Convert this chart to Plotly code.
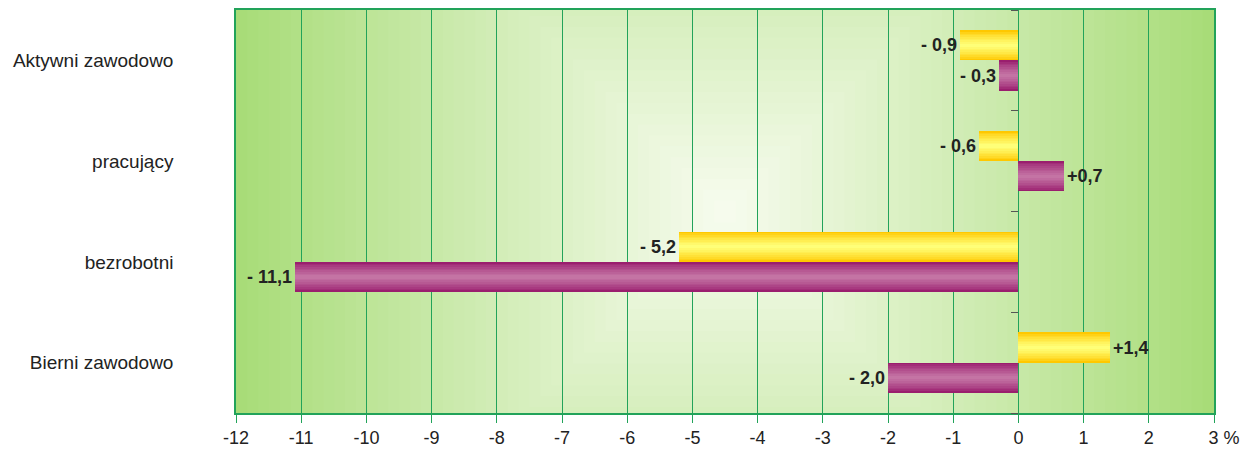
import plotly.graph_objects as go

# ---------------- data ----------------
categories = ["Aktywni zawodowo", "pracujący", "bezrobotni", "Bierni zawodowo"]
series_a = [-0.9, -0.6, -5.2, 1.4]    # yellow (upper bar)
series_b = [-0.3, 0.7, -11.1, -2.0]   # purple (lower bar)
x_tick_values = [-12, -11, -10, -9, -8, -7, -6, -5, -4, -3, -2, -1, 0, 1, 2, 3]
x_tick_labels = ["-12", "-11", "-10", "-9", "-8", "-7", "-6", "-5", "-4", "-3",
                 "-2", "-1", "0", "1", "2", "3 %"]

# ---------------- styling ----------------
W, H = 1250, 450
M_L, M_R, M_T, M_B = 236, 36, 10, 37
X_RANGE = [-12, 3]
Y_RANGE = [len(categories) - 0.5, -0.5]
FONT = "Liberation Sans, Arial, sans-serif"
GRID = "#22a35a"
BAR_W = 0.30

px_per_x = (W - M_L - M_R) / (X_RANGE[1] - X_RANGE[0])
px_per_y = (H - M_T - M_B) / abs(Y_RANGE[0] - Y_RANGE[1])


def lerp(c1, c2, t):
    return "rgb(%d,%d,%d)" % tuple(round(a + (b - a) * t) for a, b in zip(c1, c2))


def fmt(v):
    s = ("%.1f" % abs(v)).replace(".", ",")
    return ("- " if v < 0 else "+") + s


fig = go.Figure()


# gradient bars built from overlaid layers of decreasing thickness
def add_gradient_bars(values, offset, edge, centre, name):
    n = len(values)
    ys = [i + offset for i in range(n)]
    layers = 9
    for j in range(layers):
        t = j / (layers - 1)
        w = BAR_W * (1 - j / layers)
        kw = {}
        if j == 0:
            kw = dict(text=[fmt(v) for v in values], textposition="outside",
                      textfont=dict(family=FONT, size=18, color="#222222", weight=700),
                      constraintext="none", cliponaxis=False)
        fig.add_trace(go.Bar(
            x=values, y=ys, orientation="h", width=w,
            marker=dict(color=lerp(edge, centre, t ** 0.8), line=dict(width=0)),
            name=name, showlegend=False, hoverinfo="skip" if j else "x", **kw))


add_gradient_bars(series_a, -BAR_W / 2, (255, 200, 0), (255, 255, 120), "A")
add_gradient_bars(series_b, BAR_W / 2, (154, 30, 110), (196, 116, 164), "B")

# invisible trace carrying the tick axis placed at x = 0
fig.add_trace(go.Scatter(x=[0] * len(categories), y=list(range(len(categories))),
                         mode="markers", marker=dict(opacity=0), yaxis="y2",
                         hoverinfo="skip", showlegend=False))

# background: square gradient from a light centre to green edges
cx, cy = -4.5, 1.5
R = 490.0
c_centre = (248, 252, 240)
c_edge = (168, 220, 120)
shapes = []
steps = 70
r_max = 760.0
for k in range(steps):
    r = r_max * (1 - k / steps)
    t = min(r / R, 1.0)
    x0 = max(cx - r / px_per_x, X_RANGE[0])
    x1 = min(cx + r / px_per_x, X_RANGE[1])
    y0 = max(cy - r / px_per_y, -0.5)
    y1 = min(cy + r / px_per_y, len(categories) - 0.5)
    shapes.append(dict(type="rect", xref="x", yref="y", x0=x0, x1=x1, y0=y0, y1=y1,
                       fillcolor=lerp(c_centre, c_edge, t), line=dict(width=0),
                       layer="below"))

ticktext = list(x_tick_labels)
ticktext[-1] = "\u00a0\u00a0\u00a0\u00a0" + ticktext[-1]

fig.update_layout(
    width=W, height=H,
    margin=dict(l=M_L, r=M_R, t=M_T, b=M_B, autoexpand=False),
    paper_bgcolor="white", plot_bgcolor="rgb(168,220,120)",
    barmode="overlay", bargap=0,
    font=dict(family=FONT, color="#222222"),
    shapes=shapes,
    xaxis=dict(range=X_RANGE, tickvals=x_tick_values, ticktext=ticktext,
               showgrid=True, gridcolor=GRID, gridwidth=1, zeroline=False,
               showline=True, linecolor=GRID, linewidth=1.5, mirror=True,
               ticks="outside", ticklen=8, tickcolor=GRID, automargin=False,
               ticklabelstandoff=0,
               tickfont=dict(family=FONT, size=18, color="#222222")),
    yaxis=dict(range=Y_RANGE, tickvals=list(range(len(categories))), ticktext=categories,
               showgrid=False, zeroline=False, showline=True, linecolor=GRID,
               linewidth=1.5, mirror=True, ticks="", ticklabelstandoff=57,
               automargin=False,
               tickfont=dict(family=FONT, size=19, color="#222222")),
    yaxis2=dict(range=Y_RANGE, overlaying="y", anchor="free", position=12 / 15,
                side="left", tickvals=[i - 0.5 for i in range(len(categories) + 1)],
                showticklabels=False, ticks="outside", ticklen=7, tickcolor="#555555",
                tickwidth=1, showgrid=False, zeroline=False, showline=False,
                automargin=False),
)

fig.write_html("out.html", config={"displayModeBar": False},
               post_script="document.body.style.margin='0';"
                           "document.body.style.overflow='hidden';")
